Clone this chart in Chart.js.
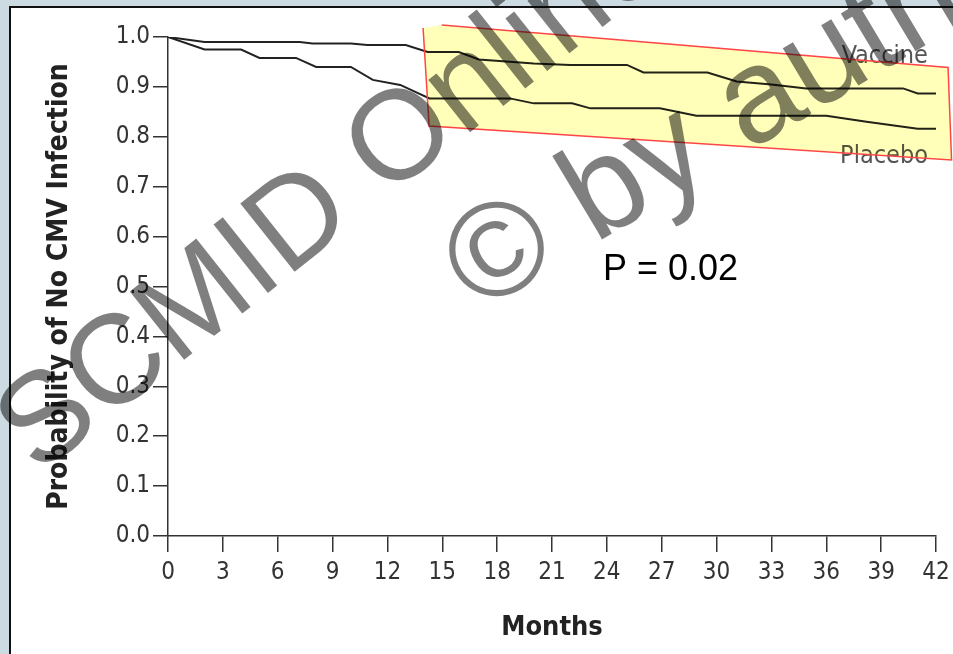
<!DOCTYPE html>
<html>
<head>
<meta charset="utf-8">
<script src="https://cdn.jsdelivr.net/npm/chart.js@4.4.1/dist/chart.umd.min.js"></script>
<style>
  html, body { margin: 0; padding: 0; }
  body { width: 953px; height: 654px; background: #ccdbe2; position: relative; overflow: hidden; }
  #panel { position: absolute; left: 9px; top: 6px; width: 960px; height: 660px; background: #fff;
           border-left: 2px solid #111; border-top: 2px solid #111; }
  #wrap { position: absolute; left: 0; top: 0; width: 953px; height: 654px; }
</style>
</head>
<body>
<div id="panel"></div>
<div id="wrap"><canvas id="myChart"></canvas></div>
<script>
// tick labels
const monthTicks = [0, 3, 6, 9, 12, 15, 18, 21, 24, 27, 30, 33, 36, 39, 42];
const probTicks = ['0.0', '0.1', '0.2', '0.3', '0.4', '0.5', '0.6', '0.7', '0.8', '0.9', '1.0'];

// Kaplan-Meier curves
const vaccineMonths = [0, 2, 7.2, 7.9, 10, 10.9, 13, 14.2, 15.9, 17, 20, 22, 25.1, 26, 29.5, 31.1, 33, 34.9, 40.2, 41, 42];
const vaccineValues = [1.0, 0.99, 0.99, 0.987, 0.987, 0.984, 0.984, 0.97, 0.97, 0.955, 0.947, 0.944, 0.944, 0.929, 0.929, 0.911, 0.905, 0.897, 0.897, 0.887, 0.887];
const placeboMonths = [0, 2, 4, 5, 7, 8.1, 10, 11.2, 12.7, 14.3, 18.7, 20, 22.1, 23.1, 26.9, 28.9, 36, 38.2, 39.6, 41, 42];
const placeboValues = [1.0, 0.975, 0.975, 0.958, 0.958, 0.94, 0.94, 0.914, 0.904, 0.877, 0.877, 0.867, 0.867, 0.857, 0.857, 0.842, 0.842, 0.83, 0.823, 0.816, 0.816];

// highlighted band (months, probability)
const boxMonths = [14.97, 42.66, 42.85, 14.28, 13.95];
const boxValues = [1.024, 0.939, 0.7535, 0.8216, 1.018];

const condensed = '"DejaVu Sans Condensed", "DejaVu Sans", sans-serif';
const axisColor = '#333';

function toPoints(xs, ys) {
    return xs.map((x, i) => ({ x: x, y: ys[i] }));
}

function stamp(ctx, text, x, y, deg, size) {
    ctx.setTransform(1, 0, 0, 1, 0, 0);
    ctx.translate(x, y);
    ctx.rotate(-deg * Math.PI / 180);
    ctx.font = size + 'px "Liberation Sans", Arial, sans-serif';
    ctx.fillText(text, 0, 0);
}

const overlay = {
    id: 'overlay',
    afterDatasetsDraw(chart) {
        const ctx = chart.ctx;
        const xs = chart.scales.x, ys = chart.scales.y;
        ctx.save();
        ctx.fillStyle = '#555';
        ctx.font = '25px ' + condensed;
        ctx.textAlign = 'right';
        ctx.textBaseline = 'alphabetic';
        ctx.fillText('Vaccine', xs.getPixelForValue(41.56), ys.getPixelForValue(0.948));
        ctx.fillText('Placebo', xs.getPixelForValue(41.56), ys.getPixelForValue(0.7475));
        ctx.fillStyle = '#000';
        ctx.font = '36px "Liberation Sans", Arial, sans-serif';
        ctx.textAlign = 'left';
        ctx.fillText('P = 0.02', xs.getPixelForValue(23.79), ys.getPixelForValue(0.513));
        ctx.restore();
    },
    afterDraw(chart) {
        const ctx = chart.ctx;
        const xs = chart.scales.x, ys = chart.scales.y;
        const pts = boxMonths.map((m, i) => [xs.getPixelForValue(m), ys.getPixelForValue(boxValues[i])]);
        ctx.save();
        // yellow band
        ctx.beginPath();
        pts.forEach((p, i) => i ? ctx.lineTo(p[0], p[1]) : ctx.moveTo(p[0], p[1]));
        ctx.closePath();
        ctx.globalCompositeOperation = 'multiply';
        ctx.fillStyle = 'rgb(255, 255, 185)';
        ctx.fill();
        ctx.globalCompositeOperation = 'source-over';
        ctx.beginPath();
        pts.forEach((p, i) => i ? ctx.lineTo(p[0], p[1]) : ctx.moveTo(p[0], p[1]));
        ctx.strokeStyle = 'rgb(255, 70, 70)';
        ctx.lineWidth = 1.5;
        ctx.stroke();

        // watermark
        ctx.fillStyle = 'rgba(0, 0, 0, 0.5)';
        ctx.textBaseline = 'alphabetic';
        ctx.textAlign = 'left';
        stamp(ctx, 'SCMID Online', 38, 476, 38.5, 127);
        stamp(ctx, '\u00A9 by author', 478, 314, 31, 134);
        ctx.restore();
    }
};

const ctx = document.getElementById('myChart').getContext('2d');
const myChart = new Chart(ctx, {
    type: 'line',
    data: {
        datasets: [{
            label: 'Vaccine',
            data: toPoints(vaccineMonths, vaccineValues),
            borderColor: '#222',
            borderWidth: 2,
            pointRadius: 0,
            tension: 0
        }, {
            label: 'Placebo',
            data: toPoints(placeboMonths, placeboValues),
            borderColor: '#222',
            borderWidth: 2,
            pointRadius: 0,
            tension: 0
        }]
    },
    options: {
        responsive: true,
        maintainAspectRatio: false,
        animation: false,
        layout: { padding: { left: 0, top: 37, right: 17, bottom: 0 } },
        plugins: { legend: { display: false }, tooltip: { enabled: false } },
        scales: {
            x: {
                type: 'linear',
                min: 0,
                max: 42,
                afterBuildTicks: (scale) => { scale.ticks = monthTicks.map(v => ({ value: v })); },
                afterFit: (scale) => { scale.height = 118; scale.paddingLeft = 0; scale.paddingRight = 0; },
                ticks: { color: axisColor, padding: 6, maxRotation: 0, autoSkip: false,
                         font: { family: condensed, size: 24 } },
                grid: { drawOnChartArea: false, drawTicks: true, tickLength: 16, color: axisColor, lineWidth: 1.5 },
                border: { display: true, color: axisColor, width: 1.5 },
                title: { display: true, text: 'Months', color: '#222', padding: { top: 0, bottom: 10 },
                         font: { family: condensed, size: 27, weight: 'bold' } }
            },
            y: {
                min: 0,
                max: 1,
                afterBuildTicks: (scale) => { scale.ticks = probTicks.map(t => ({ value: parseFloat(t) })); },
                afterFit: (scale) => { scale.width = 168; scale.paddingTop = 0; scale.paddingBottom = 0; },
                ticks: { color: axisColor, padding: 3, autoSkip: false,
                         callback: (v, i) => probTicks[i],
                         font: { family: condensed, size: 24 } },
                grid: { drawOnChartArea: false, drawTicks: true, tickLength: 15, color: axisColor, lineWidth: 1.5 },
                border: { display: true, color: axisColor, width: 1.5 },
                title: { display: true, text: 'Probability of No CMV Infection', color: '#222',
                         padding: { top: 43, bottom: 0 },
                         font: { family: condensed, size: 28, weight: 'bold' } }
            }
        }
    },
    plugins: [overlay]
});
</script>
</body>
</html>
